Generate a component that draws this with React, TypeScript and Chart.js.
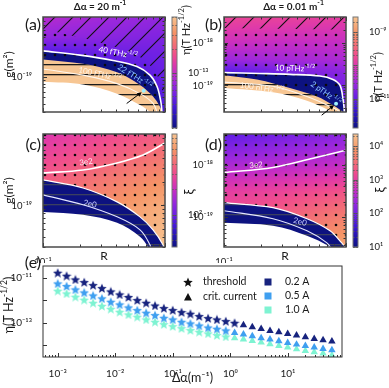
import React, { useEffect, useRef } from "react";
import { Chart, registerables } from "chart.js";

Chart.register(...registerables);

const FONT = "Lato, 'DejaVu Sans', sans-serif";
const INK = "#1a1a1a";
const NAVY = "#0d1280";
const PEACH = "#f7c693";

// ---------------- map axes ----------------
const rRange = [0.1, 1.0];
const fieldR = [0.1, 0.3, 1.0];

// ---------------- (a) Δα = 20 m^-1, η map ----------------
const aGRange = [3.0e-20, 7.94e-19];
const aEtaRange = [2.0e-14, 5.0e-13];
const aFieldG = [8e-19, 4e-19, 2.2e-19, 9e-20, 3e-20];
const aFieldEta = [
  [9.1e-14, 7.7e-14, 6.8e-14],
  [6.8e-14, 6.4e-14, 5.8e-14],
  [3.8e-14, 4.8e-14, 5.2e-14],
  [2.75e-14, 3.2e-14, 4.8e-14],
  [2.3e-14, 2.6e-14, 3.8e-14],
];
const a40fR = [0.1, 0.201, 0.375, 0.589, 0.753, 0.859, 0.922, 0.94, 0.945];
const a40fG = [2.47e-19, 2.13e-19, 1.77e-19, 1.44e-19, 1.07e-19, 7.3e-20, 4.4e-20, 3.3e-20, 2.7e-20];
const aNavyR = [0.1, 0.213, 0.405, 0.624, 0.798, 0.91, 0.945, 0.954];
const aNavyG = [1.84e-19, 1.58e-19, 1.18e-19, 7.6e-20, 5.1e-20, 3.6e-20, 3.0e-20, 2.7e-20];
const a100fR = [0.1, 0.213, 0.405, 0.624, 0.798, 0.859, 0.868];
const a100fG = [1.32e-19, 1.07e-19, 7.98e-20, 5.65e-20, 4.05e-20, 3.0e-20, 2.7e-20];
const aVoidR = [0.1, 0.213, 0.405, 0.624, 0.753, 0.767];
const aVoidG = [8.5e-20, 7.76e-20, 5.65e-20, 3.82e-20, 3.0e-20, 2.7e-20];
const aHatchR = [0.1, 0.151, 0.277, 0.47, 0.686, 0.859, 0.962, 1.0];
const aHatchG = [5.25e-19, 4.4e-19, 3.38e-19, 2.52e-19, 1.77e-19, 1.07e-19, 5.94e-20, 4.84e-20];
const aArrowR = [0.485, 0.644];
const aArrowG = [4.02e-20, 5.94e-20];

// ---------------- (b) Δα = 0.01 m^-1, η map ----------------
const bGRange = [2.4e-20, 3.98e-18];
const bEtaRange = [1.35e-12, 2.82e-9];
const bFieldG = [4e-18, 1e-18, 4e-19, 2e-19, 2.4e-20];
const bFieldEta = [
  [1.67e-10, 1.54e-10, 1.32e-10],
  [7.2e-11, 6.2e-11, 6.2e-11],
  [2.87e-11, 3.34e-11, 3.9e-11],
  [7.2e-12, 1.34e-11, 2.1e-11],
  [2.9e-12, 4.2e-12, 9.1e-12],
];
const b10pR = [0.1, 0.197, 0.347, 0.612, 0.782, 0.893, 0.945, 0.963, 0.972];
const b10pG = [2.0e-19, 1.91e-19, 1.82e-19, 1.66e-19, 1.38e-19, 1.0e-19, 4.8e-20, 3.16e-20, 2.0e-20];
const bNavyR = [0.1, 0.186, 0.347, 0.578, 0.782, 0.945, 0.963];
const bNavyG = [1.74e-19, 1.38e-19, 8.7e-20, 5.5e-20, 3.47e-20, 2.4e-20, 2.0e-20];
const b100nR = [0.1, 0.252, 0.479, 0.782, 0.893, 0.91];
const b100nG = [1.2e-19, 9.55e-20, 5.5e-20, 3.0e-20, 2.4e-20, 2.0e-20];
const bVoidR = [0.1, 0.252, 0.479, 0.74, 0.782];
const bVoidG = [8.7e-20, 6.9e-20, 4.37e-20, 2.5e-20, 2.0e-20];
const bHatchR = [0.1, 1.0];
const bHatchG = [2.2e-18, 2.0e-18];
const bArrowR = [0.632, 0.798];
const bArrowG = [2.02e-20, 3.47e-20];

// ---------------- (c) Δα = 20 m^-1, ξ map ----------------
const cXiRange = [41.7, 891];
const cFieldG = [8e-19, 4e-19, 2e-19, 9e-20, 3e-20];
const cFieldXi = [
  [232, 287, 356],
  [287, 356, 454],
  [356, 454, 580],
  [427, 563, 741],
  [483, 656, 891],
];
const c3e2R = [0.1, 0.213, 0.405, 0.661, 1.0];
const c3e2G = [2.57e-19, 2.8e-19, 3.43e-19, 4.32e-19, 6.12e-19];
const cNavyR = [0.1, 0.213, 0.405, 0.624, 0.798, 0.962, 0.981];
const cNavyG = [2.1e-19, 1.66e-19, 1.11e-19, 7.19e-20, 4.94e-20, 3.2e-20, 2.69e-20];
const c2e0R = [0.1, 0.213, 0.405, 0.624, 0.753, 0.767];
const c2e0G = [1.36e-19, 1.02e-19, 7.19e-20, 4.94e-20, 3.2e-20, 2.69e-20];
const cVoidR = [0.1, 0.213, 0.405, 0.624, 0.726, 0.74];
const cVoidG = [8.3e-20, 7.62e-20, 6.04e-20, 4.03e-20, 3.0e-20, 2.69e-20];

// ---------------- (d) Δα = 0.01 m^-1, ξ map ----------------
const dGRange = [2.69e-20, 3.98e-18];
const dXiRange = [10, 22900];
const dFieldG = [4e-18, 1e-18, 3e-19, 1e-19, 2.7e-20];
const dFieldXi = [
  [69, 102, 162],
  [301, 379, 479],
  [1038, 1309, 1927],
  [1651, 2626, 4875],
  [2249, 4875, 12340],
];
const d3e2R = [0.1, 0.252, 0.537, 1.0];
const d3e2G = [7.26e-19, 9.08e-19, 1.36e-18, 1.94e-18];
const dNavyR = [0.1, 0.252, 0.479, 0.74, 0.923, 0.982, 1.0];
const dNavyG = [1.91e-19, 1.53e-19, 9.4e-20, 5.5e-20, 3.22e-20, 2.69e-20, 2.25e-20];
const d2e0R = [0.1, 0.252, 0.479, 0.698, 0.782];
const d2e0G = [1.34e-19, 9.4e-20, 5.5e-20, 3.22e-20, 2.25e-20];
const dVoidR = [0.1, 0.252, 0.479, 0.74, 0.767];
const dVoidG = [7.83e-20, 6.85e-20, 4.4e-20, 2.69e-20, 2.25e-20];

// ---------------- (e) η vs Δα ----------------
const daVals = [
  0.001, 0.001425, 0.00203, 0.002891, 0.004118, 0.005867, 0.008358, 0.01191,
  0.01696, 0.02416, 0.03443, 0.04905, 0.06988, 0.09956, 0.1418, 0.2021,
  0.2879, 0.4101, 0.5843, 0.8324, 1.186, 1.689, 2.407, 3.429,
  4.885, 6.959, 9.913, 14.12, 20.12, 28.66, 40.83, 58.17,
];
const eta02 = [
  1.73e-11, 1.27e-11, 8.7e-12, 6.6e-12, 4.85e-12, 3.56e-12, 2.52e-12, 1.85e-12,
  1.41e-12, 1.03e-12, 7.8e-13, 5.9e-13, 4.5e-13, 3.67e-13, 2.99e-13, 2.52e-13,
  1.98e-13, 1.61e-13, 1.4e-13, 1.18e-13, 9.9e-14, 7.8e-14, 6.35e-14, 5.35e-14,
  4.35e-14, 3.78e-14, 3.19e-14, 2.69e-14, 2.26e-14, 1.91e-14, 1.66e-14, 1.45e-14,
];
const eta05 = [
  5.77e-12, 4.38e-12, 3.1e-12, 2.28e-12, 1.67e-12, 1.23e-12, 8.7e-13, 6.6e-13,
  4.84e-13, 3.67e-13, 2.79e-13, 2.19e-13, 1.66e-13, 1.4e-13, 1.1e-13, 9.3e-14,
  7.5e-14, 6.1e-14, 5.35e-14, 4.5e-14, 3.54e-14, 2.98e-14, 2.51e-14, 2.04e-14,
  1.78e-14, 1.5e-14, 1.26e-14, 1.06e-14, 9.2e-15, 7.8e-15, 6.8e-15, 5.9e-15,
];
const eta10 = [
  2.7e-12, 2.05e-12, 1.46e-12, 1.07e-12, 7.8e-13, 5.7e-13, 4.2e-13, 3.09e-13,
  2.35e-13, 1.85e-13, 1.4e-13, 1.1e-13, 8.6e-14, 7.0e-14, 5.7e-14, 4.65e-14,
  3.92e-14, 3.3e-14, 2.78e-14, 2.42e-14, 2.04e-14, 1.78e-14, 1.55e-14, 1.3e-14,
  1.1e-14, 9.2e-15, 7.8e-15, 6.5e-15, 5.5e-15, 4.8e-15, 4.2e-15, 3.5e-15,
];
const currents = ["0.2 A", "0.5 A", "1.0 A"];
const critFrom = [21, 20, 20]; // first index plotted as "crit. current"
const eXRange = [5.55e-4, 87.1];
const eYRange = [2.9e-15, 3.47e-11];

// ---------------- helpers ----------------
type Part = [string, boolean];
type Note = { parts: Part[]; R: number; g: number; rot: number; color: string; size?: number };

const SUP: Record<string, string> = { "-": "⁻", "0": "⁰", "1": "¹", "2": "²", "3": "³", "4": "⁴", "5": "⁵", "6": "⁶", "7": "⁷", "8": "⁸", "9": "⁹" };
const sup = (n: number) => String(n).split("").map((c) => SUP[c] ?? c).join("");
const decade = (v: number) => {
  const l = Math.log10(v);
  const r = Math.round(l);
  return Math.abs(l - r) < 1e-6 ? r : null;
};
const decadeLabel = (v: any) => {
  const r = decade(Number(v));
  return r === null ? "" : "10" + sup(r);
};
const oddDecadeLabel = (v: any) => {
  const r = decade(Number(v));
  return r === null || r % 2 === 0 ? "" : "10" + sup(r);
};
const onlyDecade = (k: number) => (v: any) => (decade(Number(v)) === k ? "10" + sup(k) : "");

const CMAP_STOPS: [number, string][] = [
  [0, "#0d1280"], [0.08, "#2014a8"], [0.18, "#4018d4"], [0.28, "#6a20e4"],
  [0.4, "#9a28dc"], [0.5, "#c42ec4"], [0.58, "#e03aa8"], [0.66, "#f04e8c"],
  [0.74, "#f26a78"], [0.86, "#f59466"], [1, "#f7c490"],
];
const STOPS = CMAP_STOPS.map(([t, h]) => [t, parseInt(h.slice(1, 3), 16), parseInt(h.slice(3, 5), 16), parseInt(h.slice(5, 7), 16)]);
function cmap(t: number): number[] {
  t = Math.min(1, Math.max(0, t));
  for (let i = 1; i < STOPS.length; i++) {
    if (t <= STOPS[i][0]) {
      const a = STOPS[i - 1], b = STOPS[i];
      const f = (t - a[0]) / (b[0] - a[0]);
      return [a[1] + f * (b[1] - a[1]), a[2] + f * (b[2] - a[2]), a[3] + f * (b[3] - a[3])];
    }
  }
  return STOPS[STOPS.length - 1].slice(1);
}

function fieldAt(Rn: number[], Gn: number[], V: number[][], R: number, g: number) {
  const lx = Math.log10(R), ly = Math.log10(g);
  const LX = Rn.map((v) => Math.log10(v)), LY = Gn.map((v) => Math.log10(v));
  let i = 0;
  while (i < LX.length - 2 && lx > LX[i + 1]) i++;
  let fx = (lx - LX[i]) / (LX[i + 1] - LX[i]);
  fx = Math.min(1, Math.max(0, fx));
  let j = 0;
  while (j < LY.length - 2 && ly < LY[j + 1]) j++;
  let fy = (LY[j] - ly) / (LY[j] - LY[j + 1]);
  fy = Math.min(1, Math.max(0, fy));
  const L = Math.log10;
  const v00 = L(V[j][i]), v01 = L(V[j][i + 1]), v10 = L(V[j + 1][i]), v11 = L(V[j + 1][i + 1]);
  return (v00 * (1 - fx) + v01 * fx) * (1 - fy) + (v10 * (1 - fx) + v11 * fx) * fy;
}

function logTicks(min: number, max: number): [number, boolean][] {
  const out: [number, boolean][] = [];
  for (let e = Math.floor(Math.log10(min)); e <= Math.ceil(Math.log10(max)); e++) {
    for (let m = 1; m <= 9; m++) {
      const v = m * Math.pow(10, e);
      if (v >= min * (1 - 1e-9) && v <= max * (1 + 1e-9)) out.push([v, m === 1]);
    }
  }
  return out;
}

function drawRich(ctx: CanvasRenderingContext2D, parts: Part[], x: number, y: number, rot: number, size: number, color: string, align = "center", weight = "normal") {
  ctx.save();
  ctx.translate(x, y);
  ctx.rotate((rot * Math.PI) / 180);
  ctx.fillStyle = color;
  ctx.textBaseline = "middle";
  ctx.textAlign = "left";
  const fonts = parts.map(([, s]) => `${weight} ${s ? size * 0.68 : size}px ${FONT}`);
  const widths = parts.map(([t], i) => {
    ctx.font = fonts[i];
    return ctx.measureText(t).width;
  });
  const total = widths.reduce((a, b) => a + b, 0);
  let cx = align === "center" ? -total / 2 : align === "right" ? -total : 0;
  parts.forEach(([t, s], i) => {
    ctx.font = fonts[i];
    ctx.fillText(t, cx, s ? -size * 0.38 : 0);
    cx += widths[i];
  });
  ctx.restore();
}

function makePattern(kind: string, color = "#111") {
  const c = document.createElement("canvas");
  const x = c.getContext("2d")!;
  if (kind === "diag") {
    const s = 18;
    c.width = s; c.height = s;
    x.strokeStyle = color; x.lineWidth = 1.1;
    x.beginPath();
    x.moveTo(0, s); x.lineTo(s, 0);
    x.moveTo(-2, 2); x.lineTo(2, -2);
    x.moveTo(s - 2, s + 2); x.lineTo(s + 2, s - 2);
    x.stroke();
  } else if (kind === "dots") {
    c.width = 10; c.height = 10;
    x.fillStyle = color;
    x.beginPath(); x.arc(5, 5, 1.3, 0, Math.PI * 2); x.fill();
  } else {
    c.width = 8; c.height = 10;
    x.fillStyle = color;
    x.fillRect(0, 4, 8, 1.3);
  }
  return x.createPattern(c, "repeat")!;
}

function starImage(color: string, size = 10) {
  const c = document.createElement("canvas");
  c.width = size; c.height = size;
  const x = c.getContext("2d")!;
  x.fillStyle = color;
  x.beginPath();
  const cx = size / 2, cy = size / 2 + 0.6, R = size / 2, r = R * 0.45;
  for (let i = 0; i < 10; i++) {
    const ang = -Math.PI / 2 + (i * Math.PI) / 5;
    const rad = i % 2 === 0 ? R : r;
    x.lineTo(cx + rad * Math.cos(ang), cy + rad * Math.sin(ang));
  }
  x.closePath();
  x.fill();
  return c;
}

const pts = (R: number[], G: number[]) => R.map((r, i) => ({ x: r, y: G[i] }));
const area = (R: number[], G: number[], fill: any, bg: any, order: number) => ({
  data: pts(R, G), fill, backgroundColor: bg, borderWidth: 0, pointRadius: 0, tension: 0.35, order,
});
const curve = (R: number[], G: number[], color: string, width: number, order: number) => ({
  data: pts(R, G), fill: false, borderColor: color, borderWidth: width, pointRadius: 0, tension: 0.35, order,
});

function heatPlugin(Gn: number[], V: number[][], lim: number[]) {
  return {
    id: "heat",
    beforeDatasetsDraw(chart: any) {
      const { ctx, chartArea: a } = chart;
      const xs = chart.scales.x, ys = chart.scales.y;
      const x0 = Math.floor(a.left), y0 = Math.floor(a.top);
      const w = Math.ceil(a.right) - x0, h = Math.ceil(a.bottom) - y0;
      const off = document.createElement("canvas");
      off.width = w; off.height = h;
      const o = off.getContext("2d")!;
      const img = o.createImageData(w, h);
      const lo = Math.log10(lim[0]), hi = Math.log10(lim[1]);
      for (let j = 0; j < h; j++) {
        const g = ys.getValueForPixel(y0 + j + 0.5);
        for (let i = 0; i < w; i++) {
          const R = xs.getValueForPixel(x0 + i + 0.5);
          const lv = fieldAt(fieldR, Gn, V, R, g);
          const c = cmap((lv - lo) / (hi - lo));
          const k = (j * w + i) * 4;
          img.data[k] = c[0]; img.data[k + 1] = c[1]; img.data[k + 2] = c[2]; img.data[k + 3] = 255;
        }
      }
      o.putImageData(img, 0, 0);
      ctx.drawImage(off, x0, y0);
    },
  };
}

function framePlugin(o: { xSides: string[]; ySides: string[]; xMinor: number; yMinor: number; major: number; color: string; frame: string; width: number }) {
  return {
    id: "frame",
    afterDatasetsDraw(chart: any) {
      const { ctx, chartArea: a } = chart;
      const xs = chart.scales.x, ys = chart.scales.y;
      ctx.save();
      ctx.strokeStyle = o.color;
      ctx.lineWidth = 1;
      ctx.beginPath();
      for (const [v, maj] of logTicks(xs.min, xs.max)) {
        const L = maj ? o.major : o.xMinor;
        if (!L) continue;
        const p = Math.round(xs.getPixelForValue(v)) + 0.5;
        if (o.xSides.includes("b")) { ctx.moveTo(p, a.bottom); ctx.lineTo(p, a.bottom - L); }
        if (o.xSides.includes("t")) { ctx.moveTo(p, a.top); ctx.lineTo(p, a.top + L); }
      }
      for (const [v, maj] of logTicks(ys.min, ys.max)) {
        const L = maj ? o.major : o.yMinor;
        if (!L) continue;
        const p = Math.round(ys.getPixelForValue(v)) + 0.5;
        if (o.ySides.includes("l")) { ctx.moveTo(a.left, p); ctx.lineTo(a.left + L, p); }
        if (o.ySides.includes("r")) { ctx.moveTo(a.right, p); ctx.lineTo(a.right - L, p); }
      }
      ctx.stroke();
      ctx.strokeStyle = o.frame;
      ctx.lineWidth = o.width;
      ctx.strokeRect(a.left, a.top, a.right - a.left, a.bottom - a.top);
      ctx.restore();
    },
  };
}

function decorPlugin(d: { label: string; labelY: number; title?: Part[]; titleX?: number; notes?: Note[]; arrow?: { R: number[]; G: number[] } }) {
  return {
    id: "decor",
    afterDraw(chart: any) {
      const ctx = chart.ctx;
      const xs = chart.scales.x, ys = chart.scales.y;
      drawRich(ctx, [[d.label, false]], 41, d.labelY, 0, 16, INK, "right");
      if (d.title) drawRich(ctx, d.title, d.titleX!, 7, 0, 10, INK, "center", "bold");
      (d.notes || []).forEach((n) =>
        drawRich(ctx, n.parts, xs.getPixelForValue(n.R), ys.getPixelForValue(n.g), n.rot, n.size ?? 8, n.color)
      );
      if (d.arrow) {
        const x0 = xs.getPixelForValue(d.arrow.R[0]), y0 = ys.getPixelForValue(d.arrow.G[0]);
        const x1 = xs.getPixelForValue(d.arrow.R[1]), y1 = ys.getPixelForValue(d.arrow.G[1]);
        const ang = Math.atan2(y1 - y0, x1 - x0);
        const hl = 5;
        ctx.save();
        ctx.fillStyle = "#9ff0ff";
        ctx.beginPath(); ctx.arc(x1 + 2, y1 - 1.5, 2, 0, Math.PI * 2); ctx.fill();
        ctx.strokeStyle = "#000"; ctx.fillStyle = "#000"; ctx.lineWidth = 1;
        ctx.beginPath(); ctx.moveTo(x0, y0); ctx.lineTo(x1 - Math.cos(ang) * hl * 0.7, y1 - Math.sin(ang) * hl * 0.7); ctx.stroke();
        ctx.beginPath();
        ctx.moveTo(x1, y1);
        ctx.lineTo(x1 - hl * Math.cos(ang - 0.45), y1 - hl * Math.sin(ang - 0.45));
        ctx.lineTo(x1 - hl * Math.cos(ang + 0.45), y1 - hl * Math.sin(ang + 0.45));
        ctx.closePath(); ctx.fill();
        ctx.restore();
      }
    },
  };
}

function mapConfig(p: { gRange: number[]; showR: boolean; yTitle: boolean; heat: any; datasets: any[]; decor: any }) {
  return {
    type: "line",
    data: { datasets: p.datasets },
    options: {
      responsive: false, animation: false, devicePixelRatio: 1, events: [],
      layout: { padding: { top: p.showR ? 14 : 17, right: 1, bottom: p.showR ? 0 : 12, left: 0 } },
      plugins: { legend: { display: false }, tooltip: { enabled: false } },
      scales: {
        x: {
          type: "logarithmic", min: rRange[0], max: rRange[1], display: p.showR,
          grid: { display: false }, border: { display: false },
          ticks: { autoSkip: false, maxRotation: 0, padding: 1, color: INK, font: { family: FONT, size: 9.5 }, callback: onlyDecade(-1) },
          title: { display: true, text: "R", color: INK, font: { family: FONT, size: 12 }, padding: { top: 0, bottom: 0 } },
          afterFit: (s: any) => { s.height = 16; },
        },
        y: {
          type: "logarithmic", min: p.gRange[0], max: p.gRange[1],
          grid: { display: false }, border: { display: false },
          ticks: { autoSkip: false, padding: 3, color: INK, font: { family: FONT, size: 9.5 }, callback: decadeLabel },
          title: { display: p.yTitle, text: "g(m²)", color: INK, font: { family: FONT, size: 12 }, padding: { top: 2, bottom: 0 } },
          afterFit: (s: any) => { s.width = 43; },
        },
      },
    },
    plugins: [
      p.heat,
      framePlugin({ xSides: ["b", "t"], ySides: ["l", "r"], xMinor: 2.5, yMinor: 2.5, major: 4, color: "#333", frame: "#4a4a4a", width: 1.5 }),
      p.decor,
    ],
  };
}

function colorbarConfig(c: { range: number[]; padTop: number; padBottom: number; padLeft: number; axisW: number; labelFn: any; title: Part[]; titleX: number; titleY: number; titleSize: number }) {
  return {
    type: "line",
    data: { datasets: [] },
    options: {
      responsive: false, animation: false, devicePixelRatio: 1, events: [],
      layout: { padding: { top: c.padTop, bottom: c.padBottom, left: c.padLeft, right: 0 } },
      plugins: { legend: { display: false }, tooltip: { enabled: false } },
      scales: {
        x: { type: "linear", display: false, min: 0, max: 1 },
        y: {
          type: "logarithmic", position: "right", min: c.range[0], max: c.range[1],
          grid: { display: false }, border: { display: false },
          ticks: { autoSkip: false, padding: 3, color: INK, font: { family: FONT, size: 9.5 }, callback: c.labelFn },
          afterFit: (s: any) => { s.width = c.axisW; },
        },
      },
    },
    plugins: [
      {
        id: "cbar",
        afterDraw(chart: any) {
          const { ctx, chartArea: a } = chart;
          const ys = chart.scales.y;
          const lo = Math.log10(c.range[0]), hi = Math.log10(c.range[1]);
          ctx.save();
          for (let y = Math.floor(a.top); y < Math.ceil(a.bottom); y++) {
            const v = ys.getValueForPixel(y + 0.5);
            const col = cmap((Math.log10(v) - lo) / (hi - lo)).map((n) => Math.round(n));
            ctx.fillStyle = `rgb(${col[0]},${col[1]},${col[2]})`;
            ctx.fillRect(a.left, y, a.right - a.left, 1);
          }
          ctx.strokeStyle = "#555";
          ctx.lineWidth = 1;
          ctx.beginPath();
          for (const [v, maj] of logTicks(c.range[0], c.range[1])) {
            const p = Math.round(ys.getPixelForValue(v)) + 0.5;
            const L = maj ? 2.5 : 1.5;
            ctx.moveTo(a.left, p); ctx.lineTo(a.left + L, p);
            ctx.moveTo(a.right, p); ctx.lineTo(a.right - L, p);
          }
          ctx.stroke();
          ctx.strokeStyle = "#777";
          ctx.strokeRect(a.left, a.top, a.right - a.left, a.bottom - a.top);
          ctx.restore();
          drawRich(ctx, c.title, c.titleX, c.titleY, -90, c.titleSize, INK);
        },
      },
    ],
  };
}

const ETA_TITLE: Part[] = [["η(T Hz", false], ["-1/2", true], [")", false]];

const LAYOUT = [
  { l: 0, t: 0, w: 166, h: 140 },
  { l: 181, t: 0, w: 166, h: 140 },
  { l: 0, t: 120, w: 166, h: 143 },
  { l: 181, t: 120, w: 166, h: 143 },
  { l: 160, t: 0, w: 60, h: 140 },
  { l: 340, t: 0, w: 49, h: 140 },
  { l: 160, t: 120, w: 60, h: 143 },
  { l: 340, t: 120, w: 49, h: 143 },
  { l: 0, t: 250, w: 389, h: 138 },
];

export default function App() {
  const refs = [useRef<HTMLCanvasElement>(null), useRef<HTMLCanvasElement>(null), useRef<HTMLCanvasElement>(null),
    useRef<HTMLCanvasElement>(null), useRef<HTMLCanvasElement>(null), useRef<HTMLCanvasElement>(null),
    useRef<HTMLCanvasElement>(null), useRef<HTMLCanvasElement>(null), useRef<HTMLCanvasElement>(null)];

  useEffect(() => {
    const diag = makePattern("diag", "#111");
    const dots = makePattern("dots", "#0a0a0a");
    const hBlack = makePattern("h", "#1b1b1b");
    const hGrey = makePattern("h", "#3b4060");

    const aNotes: Note[] = [
      { parts: [["40 fTHz", false], ["-1/2", true]], R: 0.412, g: 2.3e-19, rot: 11, color: "#ffffff" },
      { parts: [["22 fTHz", false], ["-1/2", true]], R: 0.567, g: 1.01e-19, rot: 32, color: "#8cc4ff" },
      { parts: [["100 fTHz", false], ["-1/2", true]], R: 0.293, g: 1.1e-19, rot: 12, color: "#fff4e6" },
    ];
    const bNotes: Note[] = [
      { parts: [["10 pTHz", false], ["-1/2", true]], R: 0.382, g: 2.5e-19, rot: 2, color: "#ffffff" },
      { parts: [["100 nTHz", false], ["-1/2", true]], R: 0.205, g: 8.7e-20, rot: 8, color: "#fff4e6" },
      { parts: [["2 pTHz", false], ["-1/2", true]], R: 0.686, g: 6.6e-20, rot: 35, color: "#8cc4ff" },
    ];
    const cNotes: Note[] = [
      { parts: [["3e2", false]], R: 0.225, g: 3.53e-19, rot: -8, color: "#ffe8f0" },
      { parts: [["2e0", false]], R: 0.243, g: 1.05e-19, rot: 12, color: "#c8ccff" },
    ];
    const dNotes: Note[] = [
      { parts: [["3e2", false]], R: 0.183, g: 1.01e-18, rot: -5, color: "#ffe8f0" },
      { parts: [["2e0", false]], R: 0.42, g: 8.2e-20, rot: 15, color: "#c8ccff" },
    ];

    const cfgA = mapConfig({
      gRange: aGRange, showR: false, yTitle: true,
      heat: heatPlugin(aFieldG, aFieldEta, aEtaRange),
      datasets: [
        area(a40fR, a40fG, "start", NAVY, 20),
        area(aNavyR, aNavyG, "start", PEACH, 19),
        area(aNavyR, aNavyG, "start", hBlack, 18),
        area(aHatchR, aHatchG, "end", diag, 16),
        area(aNavyR, aNavyG, 3, dots, 17),
        area(aVoidR, aVoidG, "start", "#ffffff", 15),
        curve(a40fR, a40fG, "#ffffff", 1.6, 2),
        curve(a100fR, a100fG, "#fff6ec", 1.1, 2),
      ],
      decor: decorPlugin({ label: "(a)", labelY: 25, title: [["Δα = 20 m", false], ["-1", true]], titleX: 100, notes: aNotes, arrow: { R: aArrowR, G: aArrowG } }),
    });
    const cfgB = mapConfig({
      gRange: bGRange, showR: false, yTitle: false,
      heat: heatPlugin(bFieldG, bFieldEta, bEtaRange),
      datasets: [
        area(b10pR, b10pG, "start", NAVY, 20),
        area(bNavyR, bNavyG, "start", PEACH, 19),
        area(bNavyR, bNavyG, "start", hBlack, 18),
        area(bHatchR, bHatchG, "end", diag, 16),
        area(bNavyR, bNavyG, 3, dots, 17),
        area(bVoidR, bVoidG, "start", "#ffffff", 15),
        curve(b10pR, b10pG, "#ffffff", 1.6, 2),
        curve(b100nR, b100nG, "#fff6ec", 1.1, 2),
      ],
      decor: decorPlugin({ label: "(b)", labelY: 25, title: [["Δα = 0.01 m", false], ["-1", true]], titleX: 112.5, notes: bNotes, arrow: { R: bArrowR, G: bArrowG } }),
    });
    const cfgC = mapConfig({
      gRange: aGRange, showR: true, yTitle: true,
      heat: heatPlugin(cFieldG, cFieldXi, cXiRange),
      datasets: [
        area(cNavyR, cNavyG, "start", NAVY, 20),
        area(cNavyR, cNavyG, "start", hGrey, 19),
        area(cNavyR, cNavyG, "end", dots, 18),
        area(cVoidR, cVoidG, "start", "#ffffff", 15),
        curve(cNavyR, cNavyG, "#ffffff", 1.2, 3),
        curve(c3e2R, c3e2G, "#ffffff", 1.6, 2),
        curve(c2e0R, c2e0G, "#e4e6ff", 1.1, 2),
      ],
      decor: decorPlugin({ label: "(c)", labelY: 25, notes: cNotes }),
    });
    const cfgD = mapConfig({
      gRange: dGRange, showR: true, yTitle: false,
      heat: heatPlugin(dFieldG, dFieldXi, dXiRange),
      datasets: [
        area(dNavyR, dNavyG, "start", NAVY, 20),
        area(dNavyR, dNavyG, "start", hGrey, 19),
        area(dNavyR, dNavyG, "end", dots, 18),
        area(dVoidR, dVoidG, "start", "#ffffff", 15),
        curve(dNavyR, dNavyG, "#ffffff", 1.2, 3),
        curve(d3e2R, d3e2G, "#ffffff", 1.6, 2),
        curve(d2e0R, d2e0G, "#e4e6ff", 1.1, 2),
      ],
      decor: decorPlugin({ label: "(d)", labelY: 25, notes: dNotes }),
    });

    const cbA = colorbarConfig({ range: aEtaRange, padTop: 17, padBottom: 12, padLeft: 12, axisW: 43, labelFn: decadeLabel, title: ETA_TITLE, titleX: 26, titleY: 30, titleSize: 11 });
    const cbB = colorbarConfig({ range: bEtaRange, padTop: 17, padBottom: 12, padLeft: 13, axisW: 31, labelFn: oddDecadeLabel, title: ETA_TITLE, titleX: 38, titleY: 77, titleSize: 11 });
    const cbC = colorbarConfig({ range: cXiRange, padTop: 14, padBottom: 16, padLeft: 12, axisW: 43, labelFn: decadeLabel, title: [["ξ", false]], titleX: 30, titleY: 72, titleSize: 13 });
    const cbD = colorbarConfig({ range: dXiRange, padTop: 14, padBottom: 16, padLeft: 13, axisW: 31, labelFn: decadeLabel, title: [["ξ", false]], titleX: 41, titleY: 70, titleSize: 13 });

    const colors = ["#17237e", "#3f9ff0", "#7ef3d2"];
    const seriesVals = [eta02, eta05, eta10];
    const stars = colors.map((c) => starImage(c, 10));
    const blackStar = starImage("#111", 10);
    const eDatasets = seriesVals.map((vals, k) => ({
      data: daVals.map((x, i) => ({ x, y: vals[i] })),
      showLine: false,
      pointRadius: 4.3,
      pointBorderWidth: 0,
      pointBackgroundColor: colors[k],
      borderColor: colors[k],
      backgroundColor: colors[k],
      pointStyle: (ctx: any) => (ctx.dataIndex < critFrom[k] ? stars[k] : "triangle"),
      order: k,
    }));
    const cfgE = {
      type: "line",
      data: { datasets: eDatasets },
      options: {
        responsive: false, animation: false, devicePixelRatio: 1, events: [],
        layout: { padding: { top: 16, right: 47, bottom: 0, left: 0 } },
        plugins: { legend: { display: false }, tooltip: { enabled: false } },
        scales: {
          x: {
            type: "logarithmic", min: eXRange[0], max: eXRange[1],
            grid: { display: false }, border: { display: false },
            ticks: { autoSkip: false, maxRotation: 0, padding: 3, color: INK, font: { family: FONT, size: 10 }, callback: decadeLabel },
            title: { display: true, text: "Δα(m⁻¹)", color: INK, font: { family: FONT, size: 12.5 }, padding: { top: 0, bottom: 3 } },
            afterFit: (s: any) => { s.height = 31; },
          },
          y: {
            type: "logarithmic", min: eYRange[0], max: eYRange[1],
            grid: { display: false }, border: { display: false },
            ticks: { autoSkip: false, padding: 3, color: INK, font: { family: FONT, size: 10 }, callback: oddDecadeLabel },
            afterFit: (s: any) => { s.width = 43; },
          },
        },
      },
      plugins: [
        framePlugin({ xSides: ["b"], ySides: ["l"], xMinor: 2, yMinor: 0, major: 4, color: "#333", frame: "#333", width: 1 }),
        {
          id: "eDecor",
          afterDraw(chart: any) {
            const ctx = chart.ctx;
            drawRich(ctx, [["(e)", false]], 41, 13, 0, 16, INK, "right");
            drawRich(ctx, ETA_TITLE, 9, 55, -90, 12.5, INK);
            ctx.drawImage(blackStar, 188 - 5, 32 - 5);
            ctx.fillStyle = "#111";
            ctx.beginPath();
            ctx.moveTo(188, 43); ctx.lineTo(192, 50.5); ctx.lineTo(184, 50.5); ctx.closePath(); ctx.fill();
            drawRich(ctx, [["threshold", false]], 203, 32, 0, 10.5, INK, "left");
            drawRich(ctx, [["crit. current", false]], 203, 46.7, 0, 10.5, INK, "left");
            currents.forEach((name, k) => {
              const y = 32 + k * 14;
              ctx.fillStyle = colors[k];
              ctx.fillRect(264.5, y - 3.5, 7, 7);
              drawRich(ctx, [[name, false]], 285, y, 0, 10.5, INK, "left");
            });
          },
        },
      ],
    };

    const configs = [cfgA, cfgB, cfgC, cfgD, cbA, cbB, cbC, cbD, cfgE];
    const charts = configs.map((cfg, i) => new Chart(refs[i].current!, cfg as any));
    return () => charts.forEach((c) => c.destroy());
  }, []);

  return (
    <div style={{ position: "fixed", left: 0, top: 0, width: 389, height: 388, background: "#fff", overflow: "hidden" }}>
      {LAYOUT.map((b, i) => (
        <canvas
          key={i}
          ref={refs[i]}
          width={b.w}
          height={b.h}
          style={{ position: "absolute", left: b.l, top: b.t, width: b.w, height: b.h, display: "block" }}
        />
      ))}
    </div>
  );
}
